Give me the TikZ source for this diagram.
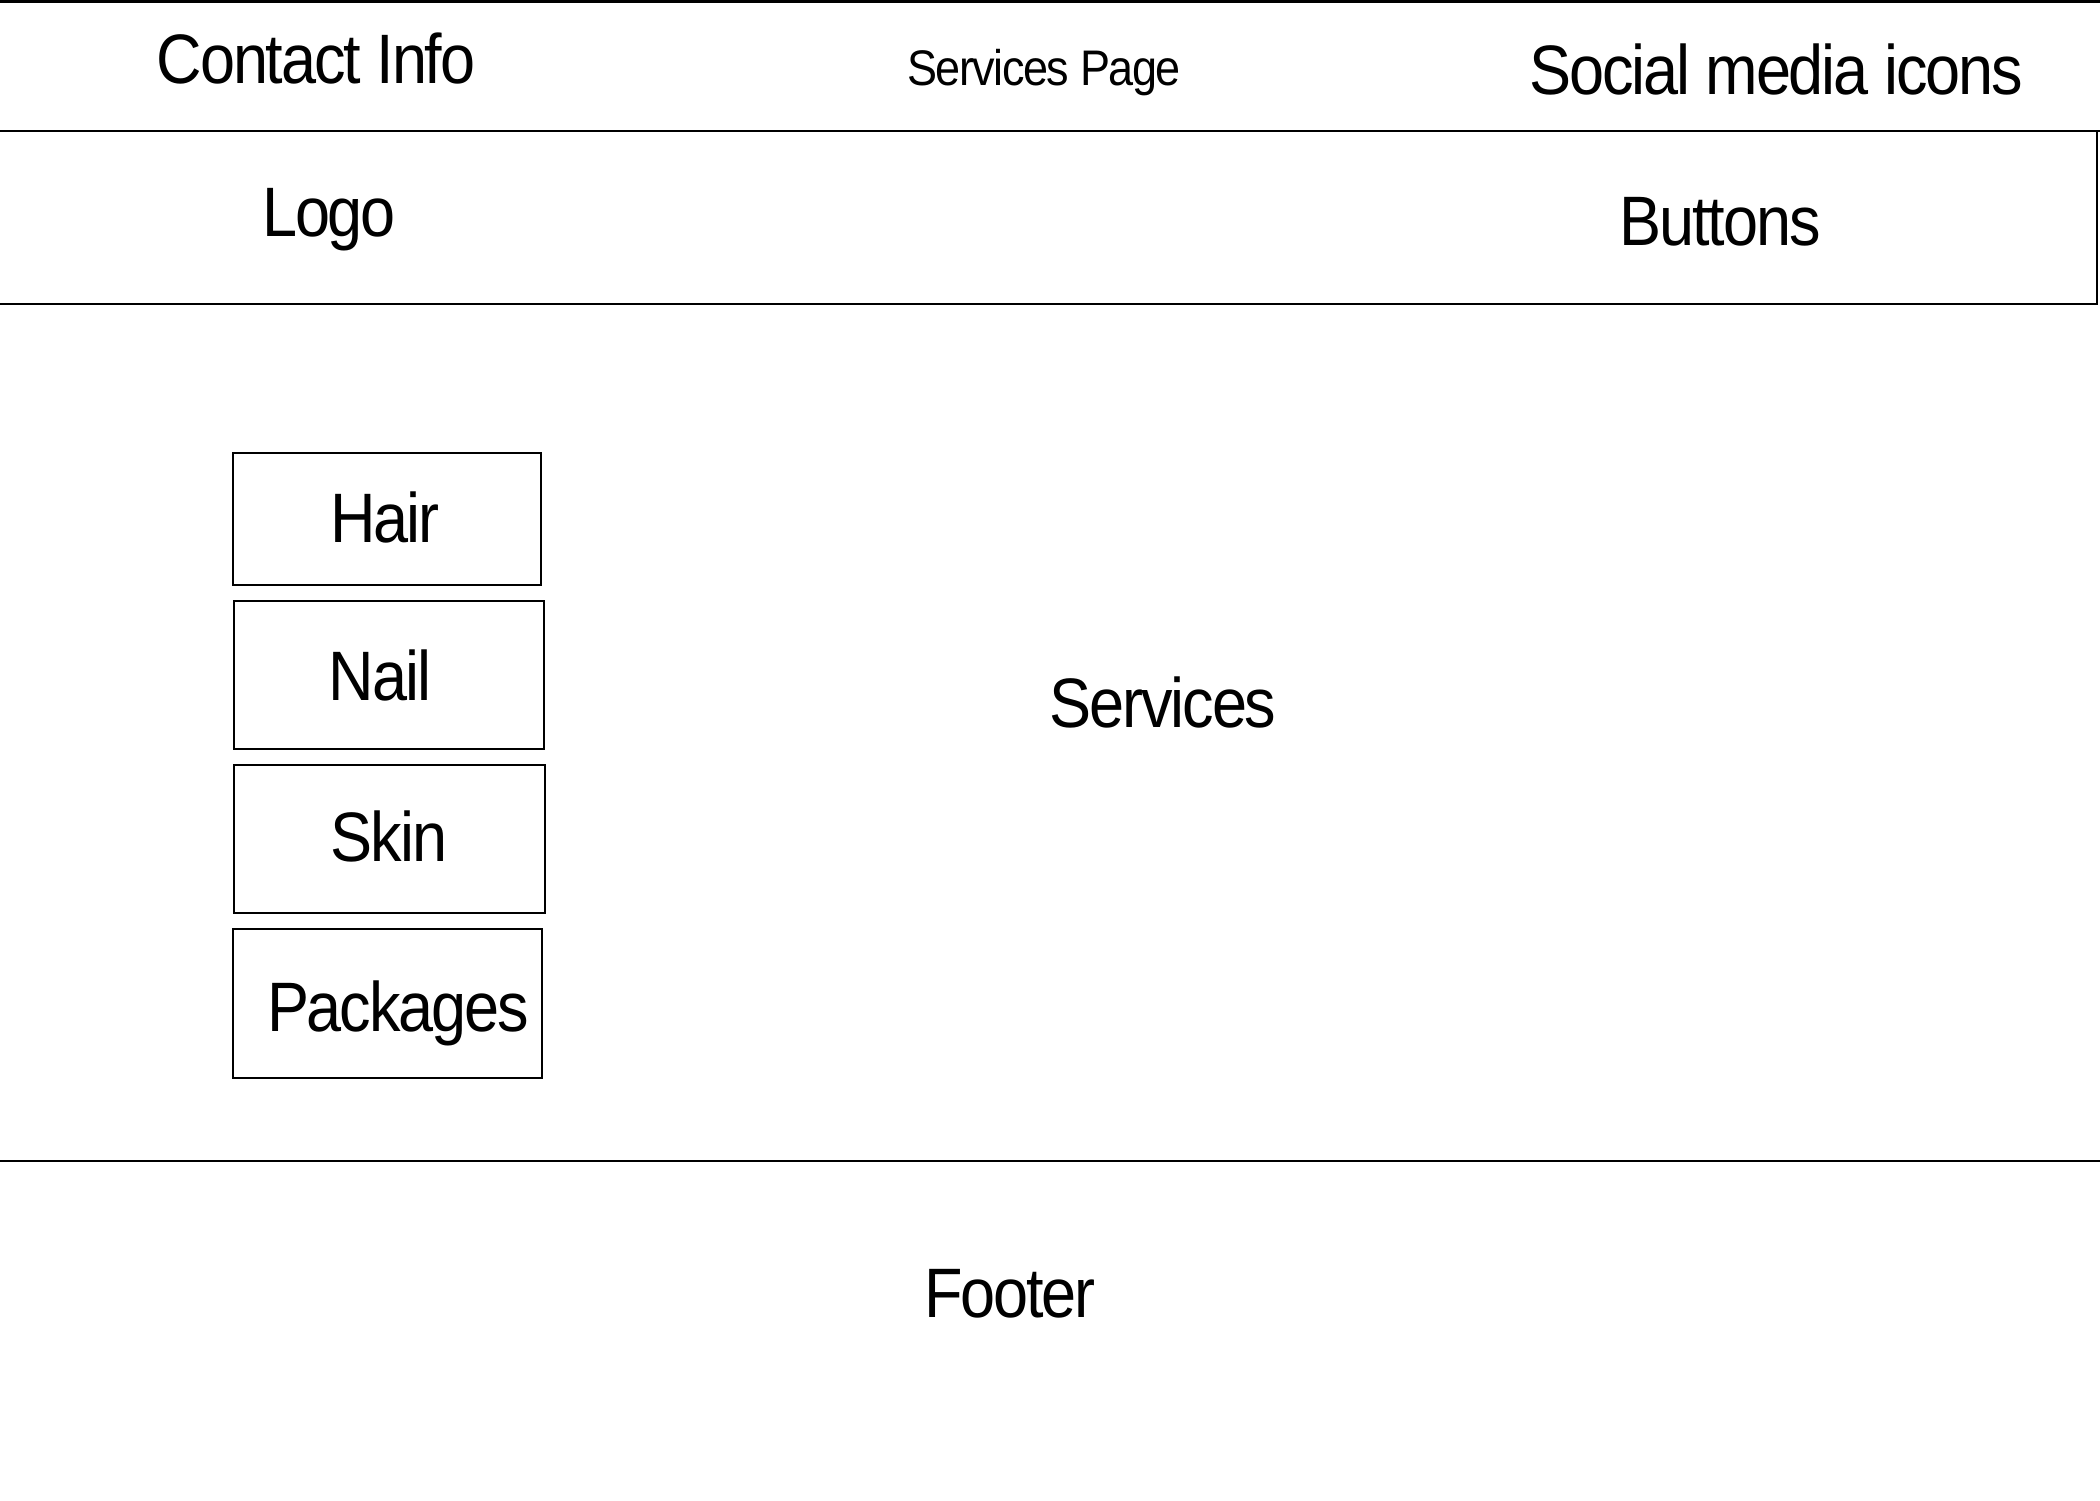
\documentclass[tikz,border=0pt]{standalone}
\usepackage{fontspec}
\setmainfont{Liberation Sans}
\newfontfamily\wfont[FakeStretch=0.9,LetterSpace=-3]{Liberation Sans}
\begin{document}
\begin{tikzpicture}[x=1pt,y=-1pt,
  big/.style={font=\wfont\fontsize{70}{78}\selectfont, inner sep=0pt, anchor=base},
  small/.style={font=\wfont\fontsize{50}{56}\selectfont, inner sep=0pt, anchor=base},
  band/.style={line width=2.5pt},
  itembox/.style={draw, line width=2pt, inner sep=0pt}]
\useasboundingbox (0,0) rectangle (2100,1500);
% bands
\coordinate (tl) at (0,1.5);
\coordinate (tr) at (2100,1.5);
\draw[band] (tl) -- (tr);
\coordinate (ml) at (0,131);
\coordinate (mr) at (2100,131);
\draw[band] (ml) -- (mr);
\coordinate (hbl) at (-5,304);
\coordinate (hbr) at (2097,131);
\draw[line width=2pt] (hbl) -| (hbr);
\coordinate (fl) at (0,1161);
\coordinate (fr) at (2100,1161);
\draw[band] (fl) -- (fr);
% header texts
\node[big] (contact) at (316,83) {Contact Info};
\node[small] (page) at (1044,85) {Services Page};
\node[big] (social) at (1776,94) {Social media icons};
\node[big] (logo) at (329,236) {Logo};
\node[big] (buttons) at (1720,245) {Buttons};
% item boxes
\node[itembox, minimum width=308, minimum height=132] (hairbox) at (387,519) {};
\node[itembox, minimum width=310, minimum height=148] (nailbox) at (389,675) {};
\node[itembox, minimum width=311, minimum height=148] (skinbox) at (389.5,839) {};
\node[itembox, minimum width=309, minimum height=149] (packbox) at (387.5,1003.5) {};
\node[big] (hair) at (385,542) {Hair};
\node[big] (nail) at (380,700) {Nail};
\node[big] (skin) at (389,861) {Skin};
\node[big] (packages) at (398,1031) {Packages};
% content
\node[big] (services) at (1163,727) {Services};
\node[big] (footer) at (1010,1317) {Footer};
\end{tikzpicture}
\end{document}
